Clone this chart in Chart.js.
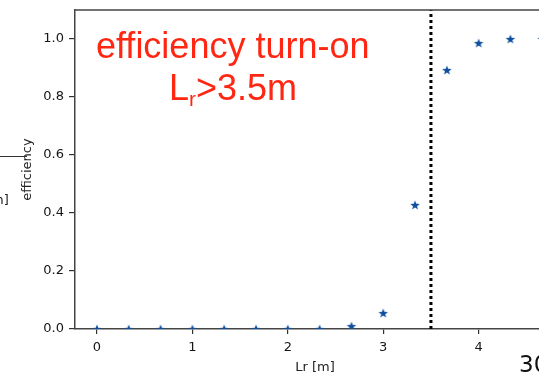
<!DOCTYPE html>
<html lang="en">
<head>
    <meta charset="UTF-8">
    <title>efficiency turn-on</title>
    <script src="https://cdn.jsdelivr.net/npm/chart.js"></script>
    <style>
        html, body { margin: 0; padding: 0; background: #fff; overflow: hidden; width: 539px; height: 375px; }
        #wrap { position: relative; width: 560px; height: 375px; }
        #chart { position: absolute; left: 0; top: 0; }
        .note { position: absolute; color: rgb(255, 38, 18); font-family: "Liberation Sans", Arial, sans-serif; font-size: 36px; white-space: nowrap; line-height: 1; }
        .frag { position: absolute; font-family: "DejaVu Sans", sans-serif; color: #222; white-space: nowrap; line-height: 1; }
    </style>
</head>
<body>
    <div id="wrap">
        <canvas id="chart" width="560" height="375"></canvas>
        <div class="note" style="left: 96px; top: 28px;">efficiency turn-on</div>
        <div class="note" style="left: 169px; top: 70px;">L<span style="font-size: 21px; position: relative; top: 6px;">r</span>&gt;3.5m</div>
        <!-- bits of the neighbouring slide content -->
        <div style="position: absolute; left: 0; top: 156px; width: 27px; height: 1px; background: #333;"></div>
        <div class="frag" style="left: -14px; top: 193px; font-size: 13px;">[m]</div>
        <div class="frag" style="left: 519px; top: 353px; font-size: 23px; color: #111;">30</div>
    </div>

    <script>
        // Data
        const lrValues = [0, 0.333, 0.667, 1, 1.333, 1.667, 2, 2.333, 2.667, 3, 3.333, 3.667, 4, 4.333, 4.667];
        const efficiency = [0, 0, 0, 0, 0, 0, 0, 0, 0.01, 0.055, 0.428, 0.893, 0.986, 1.0, 1.0];
        const cutValue = 3.5;
        const xTicks = [0, 1, 2, 3, 4];
        const yTicks = [0, 0.2, 0.4, 0.6, 0.8, 1.0];

        // filled five-point star used as the marker
        function makeStar(r, color) {
            const c = document.createElement("canvas");
            c.width = c.height = Math.ceil(r * 2 + 2);
            const g = c.getContext("2d");
            const cx = c.width / 2, cy = c.height / 2 + 0.5;
            g.beginPath();
            for (let i = 0; i < 10; i++) {
                const rad = i % 2 === 0 ? r : r * 0.42;
                const a = -Math.PI / 2 + i * Math.PI / 5;
                g.lineTo(cx + rad * Math.cos(a), cy + rad * Math.sin(a));
            }
            g.closePath();
            g.fillStyle = color;
            g.fill();
            return c;
        }
        const star = makeStar(5, "#0f4f9e");

        // top spine (right one is off the picture)
        const frame = {
            id: "frame",
            afterDraw(chart) {
                const a = chart.chartArea, ctx = chart.ctx;
                ctx.save();
                ctx.strokeStyle = "#444";
                ctx.lineWidth = 1.5;
                ctx.beginPath();
                ctx.moveTo(a.left, a.top);
                ctx.lineTo(a.right, a.top);
                ctx.stroke();
                ctx.restore();
            }
        };

        const tickFont = { family: "DejaVu Sans", size: 13 };

        new Chart(document.getElementById("chart").getContext("2d"), {
            type: "scatter",
            data: {
                datasets: [
                    {
                        data: lrValues.map((x, i) => ({ x: x, y: efficiency[i] })),
                        pointStyle: star,
                        clip: 0
                    },
                    {
                        type: "line",
                        data: [{ x: cutValue, y: 0 }, { x: cutValue, y: 1.1 }],
                        borderColor: "#000",
                        borderWidth: 3,
                        borderDash: [3, 3],
                        pointRadius: 0,
                        clip: 0
                    }
                ]
            },
            options: {
                responsive: false,
                animation: false,
                layout: { padding: { left: 16, right: 5, top: 10, bottom: 0 } },
                plugins: { legend: { display: false }, tooltip: { enabled: false } },
                scales: {
                    x: {
                        type: "linear",
                        min: -0.23,
                        max: 4.8,
                        afterBuildTicks: s => { s.ticks = xTicks.map(v => ({ value: v })); },
                        afterFit: s => { s.height = 46; s.paddingLeft = 0; s.paddingRight = 0; },
                        grid: { drawOnChartArea: false, drawTicks: true, tickLength: 5, color: "#333", lineWidth: 1.2 },
                        border: { color: "#444", width: 1.5 },
                        ticks: { color: "#151515", font: tickFont, padding: 6 },
                        title: { display: true, text: "Lr [m]", color: "#222", font: tickFont, padding: { top: 4, bottom: 0 } }
                    },
                    y: {
                        min: 0,
                        max: 1.1,
                        afterBuildTicks: s => { s.ticks = yTicks.map(v => ({ value: v })); },
                        afterFit: s => { s.width = 59; s.paddingTop = 0; s.paddingBottom = 0; },
                        grid: { drawOnChartArea: false, drawTicks: true, tickLength: 6, color: "#333", lineWidth: 1.2 },
                        border: { color: "#444", width: 1.5 },
                        ticks: { color: "#151515", font: tickFont, padding: 5, callback: v => v.toFixed(1) },
                        title: { display: true, text: "efficiency", color: "#222", font: tickFont, padding: 4 }
                    }
                }
            },
            plugins: [frame]
        });
    </script>
</body>
</html>
